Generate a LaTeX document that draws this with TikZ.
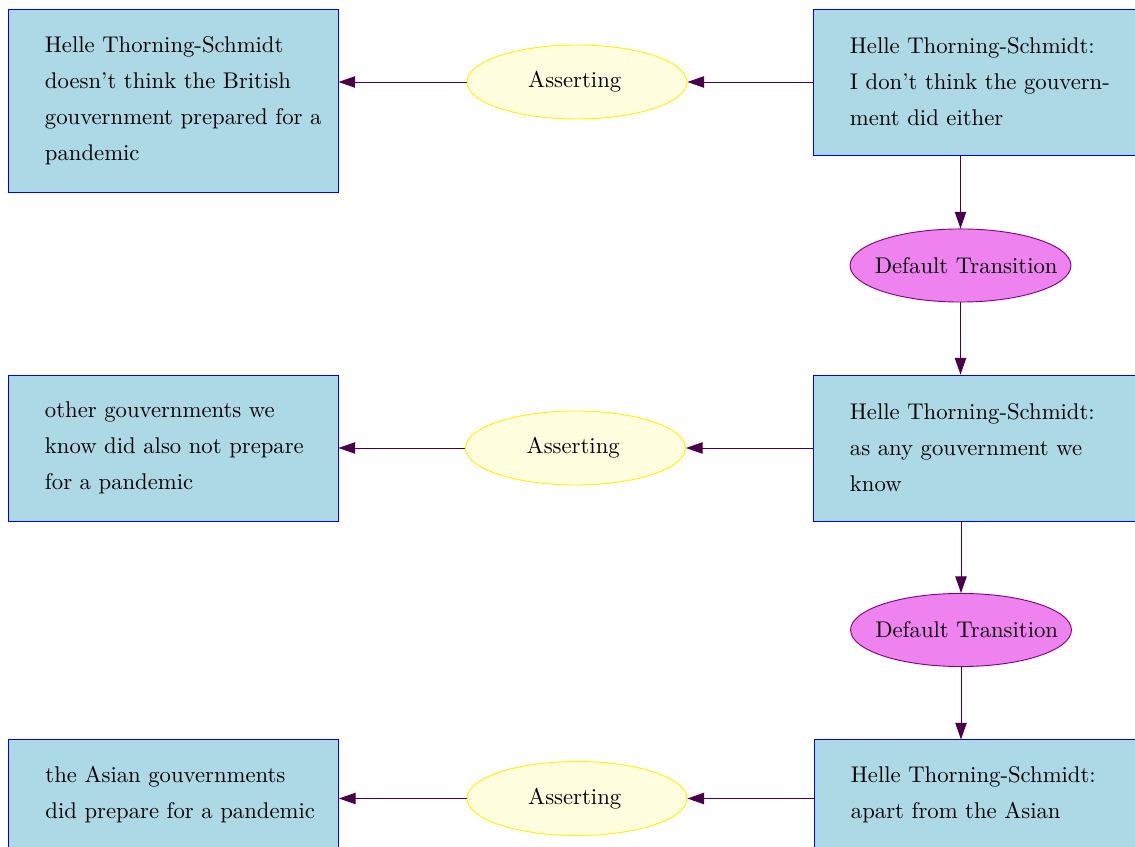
\documentclass[tikz,border=0pt]{standalone}
\usetikzlibrary{arrows.meta,shapes.geometric}
\definecolor{boxfill}{HTML}{ADD8E6}
\definecolor{assertfill}{HTML}{FFFFE0}
\definecolor{transfill}{HTML}{EE82EE}
\definecolor{transdraw}{HTML}{800080}
\definecolor{edgec}{RGB}{75,0,75}
\tikzset{
  locution/.style={rectangle, draw=blue, fill=boxfill, minimum width=145.4pt,
    text width=112.8pt, align=left, inner sep=0pt,
    font=\fontsize{10}{15.86}\selectfont},
  assertion/.style={ellipse, draw=yellow, fill=assertfill, minimum width=96.9pt,
    minimum height=32.6pt, inner sep=0pt, font=\fontsize{10}{12}\selectfont},
  transition/.style={ellipse, draw=transdraw, fill=transfill, minimum width=97.3pt,
    minimum height=32.2pt, inner sep=0pt, font=\fontsize{10}{12}\selectfont},
  edge/.style={draw=edgec, line width=0.4pt,
    -{Triangle[length=7.3pt,width=5pt]}, color=edgec}
}
% label set in a zero-width box so the ellipse keeps its given size
\newcommand{\flatlabel}[2][0pt]{\makebox[0pt]{\hspace*{#1}#2}}
\begin{document}
\begin{tikzpicture}[x=0.4405pt, y=-0.4405pt]
\useasboundingbox (0,0) rectangle (1135,847);

% left column: asserted propositions
\node[locution, minimum height=80.6pt] (L1) at (173,100.5)
  {\mbox{Helle Thorning-Schmidt}\\ \mbox{doesn't think the British}\\ \mbox{gouvernment prepared for a}\\ \mbox{pandemic}};
\node[locution, minimum height=64.3pt] (L2) at (173,448)
  {\mbox{other gouvernments we}\\ \mbox{know did also not prepare}\\ \mbox{for a pandemic}};
\node[locution, minimum height=48.5pt] (L3) at (173.5,795)
  {\mbox{the Asian gouvernments}\\ \mbox{did prepare for a pandemic}};

% middle column: illocutions
\node[assertion] (A1) at (577,82) {\flatlabel[-2pt]{Asserting}};
\node[assertion] (A2) at (575.5,448) {\flatlabel[-2pt]{Asserting}};
\node[assertion] (A3) at (577,798.5) {\flatlabel[-2pt]{Asserting}};

% right column: locutions and transitions
\node[locution, minimum height=64.3pt] (R1) at (978,82)
  {\mbox{Helle Thorning-Schmidt:}\\ \mbox{I don't think the gouvern-}\\ \mbox{ment did either}};
\node[transition] (T1) at (960.5,265.5) {\flatlabel[5pt]{Default Transition}};
\node[locution, minimum height=64.3pt] (R2) at (978,448)
  {\mbox{Helle Thorning-Schmidt:}\\ \mbox{as any gouvernment we}\\ \mbox{know}};
\node[transition] (T2) at (961,630) {\flatlabel[5pt]{Default Transition}};
\node[locution, minimum height=48.5pt] (R3) at (979,795)
  {\mbox{Helle Thorning-Schmidt:}\\ \mbox{apart from the Asian}};

% connectors
\draw[edge] (A1.east -| R1.west) -- (A1.east);
\draw[edge] (A1.west) -- (A1.west -| L1.east);
\draw[edge] (A2.east -| R2.west) -- (A2.east);
\draw[edge] (A2.west) -- (A2.west -| L2.east);
\draw[edge] (A3.east -| R3.west) -- (A3.east);
\draw[edge] (A3.west) -- (A3.west -| L3.east);
\draw[edge] (T1.north |- R1.south) -- (T1.north);
\draw[edge] (T1.south) -- (T1.south |- R2.north);
\draw[edge] (T2.north |- R2.south) -- (T2.north);
\draw[edge] (T2.south) -- (T2.south |- R3.north);
\end{tikzpicture}
\end{document}
